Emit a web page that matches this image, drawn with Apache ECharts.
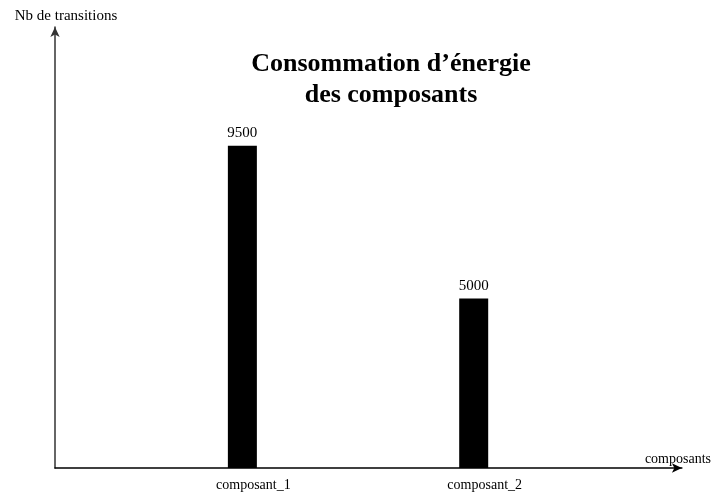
<!DOCTYPE html>
<html>
<head>
<meta charset="utf-8">
<script src="https://cdn.jsdelivr.net/npm/echarts@6/dist/echarts.min.js"></script>
<style>
  html, body { margin: 0; padding: 0; background: #fff; }
  #chart { width: 714px; height: 492px; }
</style>
</head>
<body>
<div id="chart"></div>
<script>
// Energy consumption (number of transitions) per component
const categories = ['composant_1', 'composant_2'];
const transitions = [9500, 5000];

const serif = '"Liberation Serif", "DejaVu Serif", serif';

// Components sit at positions 1, 2 on a value x-axis so the axis line
// can run from the origin to the arrow independently of bar placement.
const barData = categories.map((c, i) => [i + 1, transitions[i]]);

const chart = echarts.init(document.getElementById('chart'));
chart.setOption({
  backgroundColor: '#fff',
  animation: false,
  title: {
    text: 'Consommation d\u2019énergie\ndes composants',
    left: 386,
    top: 44,
    textAlign: 'center',
    textStyle: {
      fontFamily: serif,
      fontWeight: 'bold',
      fontSize: 26,
      lineHeight: 31,
      color: '#000'
    }
  },
  grid: { left: 55, right: 32, top: 27, bottom: 22 },
  xAxis: {
    type: 'value',
    min: 0.19,
    max: 2.9,
    name: 'composants',
    nameLocation: 'end',
    nameGap: -37,
    nameTextStyle: {
      fontFamily: serif,
      fontSize: 14,
      color: '#000',
      align: 'left',
      verticalAlign: 'bottom',
      padding: [0, 0, 2, 0]
    },
    axisLine: {
      show: true,
      symbol: ['none', 'arrow'],
      symbolSize: [7, 10],
      lineStyle: { color: '#000', width: 1.5 }
    },
    axisTick: { show: false },
    splitLine: { show: false },
    axisLabel: {
      customValues: categories.map((c, i) => i + 1),
      formatter: v => categories[Math.round(v) - 1] || '',
      margin: 10,
      padding: [0, 0, 0, 22],
      fontFamily: serif,
      fontSize: 14,
      color: '#000'
    }
  },
  yAxis: {
    type: 'value',
    min: 0,
    max: 13000,
    name: 'Nb de transitions',
    nameLocation: 'end',
    nameGap: 3,
    nameTextStyle: {
      fontFamily: serif,
      fontSize: 15,
      color: '#000',
      padding: [0, 0, 0, 22]
    },
    axisLine: {
      show: true,
      symbol: ['none', 'arrow'],
      symbolSize: [7, 10],
      lineStyle: { color: '#333', width: 1.5 }
    },
    axisTick: { show: false },
    axisLabel: { show: false },
    splitLine: { show: false }
  },
  series: [{
    type: 'bar',
    data: barData,
    barWidth: 29,
    itemStyle: { color: '#000' },
    label: {
      show: true,
      position: 'top',
      distance: 5,
      formatter: p => String(p.value[1]),
      fontFamily: serif,
      fontSize: 15,
      color: '#000'
    }
  }]
});
</script>
</body>
</html>
